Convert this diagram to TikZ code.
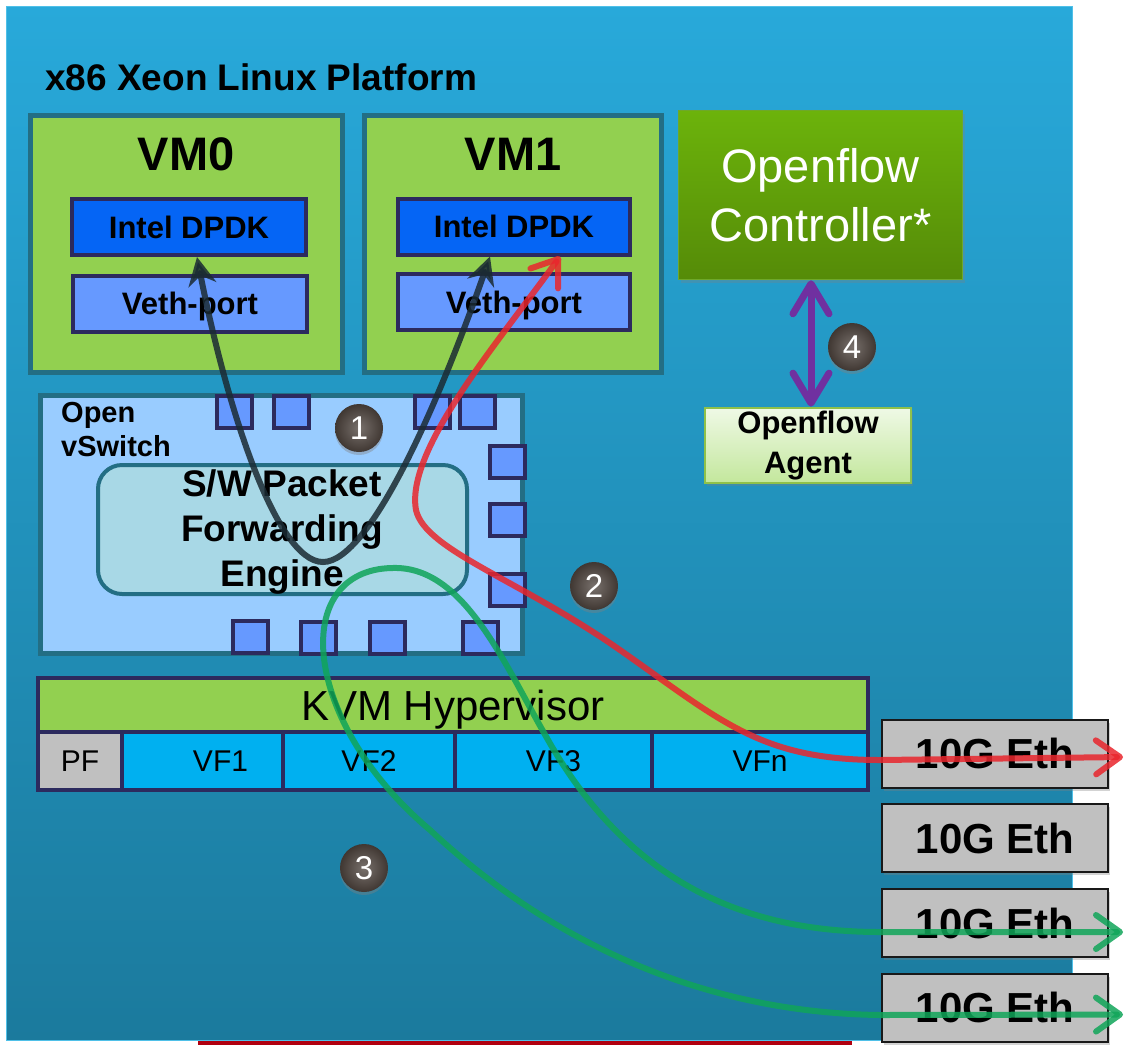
\documentclass[tikz,border=0pt]{standalone}
\usepackage{fontspec}
\setmainfont{Liberation Sans}
\usetikzlibrary{arrows.meta}
\usetikzlibrary{shadows}

\definecolor{platformtop}{HTML}{28A9DA}
\definecolor{platformbot}{HTML}{1B7A9D}
\definecolor{platformedge}{HTML}{4FC0E8}
\definecolor{tealedge}{HTML}{236E84}
\definecolor{navyedge}{HTML}{2C2A5E}
\definecolor{vmgreen}{HTML}{92D050}
\definecolor{dpdkblue}{HTML}{0565F5}
\definecolor{vethblue}{HTML}{6699FF}
\definecolor{vswblue}{HTML}{99CCFF}
\definecolor{enginefill}{HTML}{A8D8E6}
\definecolor{vfcyan}{HTML}{00B0F0}
\definecolor{pfgrey}{HTML}{C0C0C0}
\definecolor{ctrltop}{HTML}{6CB30B}
\definecolor{ctrlbot}{HTML}{558B08}
\definecolor{ctrledge}{HTML}{6FA82A}
\definecolor{agenttop}{HTML}{EFF9E6}
\definecolor{agentbot}{HTML}{C3E79C}
\definecolor{agentedge}{HTML}{8FC14A}
\definecolor{ofpurple}{HTML}{7030A0}
\definecolor{flowred}{HTML}{E9262D}
\definecolor{flowgreen}{HTML}{10A559}
\definecolor{flowblack}{HTML}{1B2B33}
\definecolor{badgebrown}{HTML}{4B413B}
\definecolor{bottomred}{HTML}{B00010}

\begin{document}
\begin{tikzpicture}[x=1pt,y=-1pt,
    barb/.tip={Straight Barb[length=24pt,width=34pt,round]},
    bigbarb/.tip={Straight Barb[length=30pt,width=36pt,round]},
    blk/.tip={Stealth[length=28pt,width=28pt]},
    bx/.style={draw=navyedge,line width=4pt,inner sep=0pt},
    vm/.style={draw=tealedge,line width=5pt,fill=vmgreen,inner sep=0pt},
    dpdk/.style={bx,fill=dpdkblue,minimum width=234pt,minimum height=56pt,
      text height=22pt,text depth=0pt,font=\fontsize{31}{36}\selectfont\bfseries},
    veth/.style={dpdk,fill=vethblue},
    port/.style={draw=navyedge,line width=4pt,fill=vethblue,
      minimum width=35pt,minimum height=32pt,inner sep=0pt},
    cell/.style={bx,minimum height=58pt},
    eth/.style={draw=black!90,line width=2pt,fill=pfgrey,minimum width=226pt,
      minimum height=68pt,inner sep=0pt,text height=30pt,text depth=0pt,
      font=\fontsize{42}{48}\selectfont\bfseries,
      drop shadow={opacity=.35,shadow xshift=2pt,shadow yshift=-3pt}},
    badge/.style={circle,inner color=badgebrown!75!white,outer color=badgebrown!85!black,
      text=white,minimum size=48pt,inner sep=0pt,font=\fontsize{33}{36}\selectfont,
      drop shadow={opacity=.4,shadow xshift=0pt,shadow yshift=-3pt}},
    flow/.style={line width=6pt,opacity=.85,line cap=round}]

  \useasboundingbox (0,0) rectangle (1126,1045);
  \fill[bottomred] (198,1041) rectangle (852,1045);
  \shade[top color=platformtop,bottom color=platformbot,draw=platformedge,line width=1pt]
    (6,6) rectangle (1072,1040);
  \node[anchor=base west,inner sep=0pt,font=\fontsize{37}{40}\selectfont\bfseries]
    (title) at (45,90) {x86 Xeon Linux Platform};

  \node[vm,minimum width=312pt,minimum height=257pt] (vm0) at (186.5,244) {};
  \node[vm,minimum width=297pt,minimum height=257pt] (vm1) at (513,244) {};
  \node[anchor=base,font=\fontsize{47}{50}\selectfont\bfseries] (vm0name) at (186,170) {VM0};
  \node[anchor=base,font=\fontsize{47}{50}\selectfont\bfseries] (vm1name) at (513,170) {VM1};
  \node[dpdk] (d0) at (189,227) {Intel DPDK};
  \node[veth] (v0) at (190,303.5) {Veth-port};
  \node[dpdk,minimum width=232pt] (d1) at (514,226.5) {Intel DPDK};
  \node[veth,minimum width=232pt] (v1) at (514,302) {Veth-port};

  \node[draw=ctrledge,line width=1.5pt,top color=ctrltop,bottom color=ctrlbot,
    minimum width=284pt,minimum height=169pt,text=white,align=center,
    font=\fontsize{47}{59}\selectfont,
    drop shadow={opacity=.3,shadow xshift=2pt,shadow yshift=-3pt}]
    (ctrl) at (820.5,195) {Openflow\\Controller*};
  \node[draw=agentedge,line width=2pt,top color=agenttop,bottom color=agentbot,
    minimum width=206pt,minimum height=69pt,align=center,
    font=\fontsize{31}{40}\selectfont\bfseries,
    drop shadow={opacity=.3,shadow xshift=2pt,shadow yshift=-3pt}]
    (agent) at (808,445.5) {Openflow\\Agent};

  \node[vm,fill=vswblue,minimum width=482pt,minimum height=258pt] (vsw) at (281.5,524.5) {};
  \node[anchor=north west,inner sep=0pt,align=left,font=\fontsize{29}{34}\selectfont\bfseries]
    (vswname) at (61,402) {Open\\vSwitch};
  \node[draw=tealedge,line width=4pt,fill=enginefill,rounded corners=24pt,
    minimum width=369pt,minimum height=129pt] (eng) at (282.5,529.5) {};
  \node[align=center,font=\fontsize{37}{45}\selectfont\bfseries]
    (engname) at (282,532) {S/W Packet\\Forwarding\\Engine};
  \foreach \x/\y [count=\i] in {234.5/412, 291.5/412, 432.5/412, 477.5/412,
      507/462, 507/520, 507/590,
      250/637, 318/638, 387/638, 480/638}
    \node[port] (port\i) at (\x,\y) {};

  \node[bx,fill=vmgreen,minimum width=830pt,minimum height=54pt,text height=30pt,
    text depth=0pt,font=\fontsize{42}{46}\selectfont] (kvm) at (453,705) {KVM Hypervisor};
  \foreach \a/\b/\c/\t/\o [count=\i] in {38/122/pfgrey/PF/0, 122/283/vfcyan/VF1/18,
      283/455/vfcyan/VF2/0, 455/652/vfcyan/VF3/0, 652/868/vfcyan/VFn/0} {
    \node[cell,fill=\c,minimum width={(\b-\a)*1pt}] (cell\i) at ({(\a+\b)/2},761) {};
    \node[text height=21pt,text depth=0pt,inner sep=0pt,font=\fontsize{30}{34}\selectfont]
      (celltext\i) at ([xshift=\o pt]cell\i.center) {\t};
  }

  \foreach \y [count=\i] in {753.5,838,923,1007.5}
    \node[eth] (eth\i) at (995,\y) {10G Eth};

  \draw[line width=7pt,draw=ofpurple,bigbarb-bigbarb]
    ([xshift=3pt]ctrl.south -| agent.north) -- ([xshift=3pt]agent.north);

  \draw[flow,draw=flowblack,blk-blk] ([xshift=8pt]d0.south)
    .. controls (225,400) and (275,562) .. (323,562)
    .. controls (370,562) and (440,400) .. ([xshift=-24pt]d1.south);
  \draw[flow,draw=flowred,barb-barb] ([xshift=46pt]d1.south)
    .. controls (500,340) and (405,450) .. (416,510)
    .. controls (425,550) and (520,580) .. (620,650)
    .. controls (720,720) and (760,760) .. (880,760)
    -- ([xshift=14pt,yshift=-3.5pt]eth1.east);
  \draw[flow,draw=flowgreen,barb-barb] ([xshift=14pt,yshift=-9pt]eth3.east) -- (880,932)
    .. controls (730,932) and (630,870) .. (560,760)
    .. controls (510,680) and (470,565) .. (392,568)
    .. controls (290,570) and (300,720) .. (430,830)
    .. controls (500,895) and (650,1012) .. (880,1015)
    -- ([xshift=14pt,yshift=-7pt]eth4.east);

  \node[badge] (b1) at (359,428) {1};
  \node[badge] (b2) at (594,586) {2};
  \node[badge] (b3) at (364,868) {3};
  \node[badge] (b4) at (852,347) {4};
\end{tikzpicture}
\end{document}
